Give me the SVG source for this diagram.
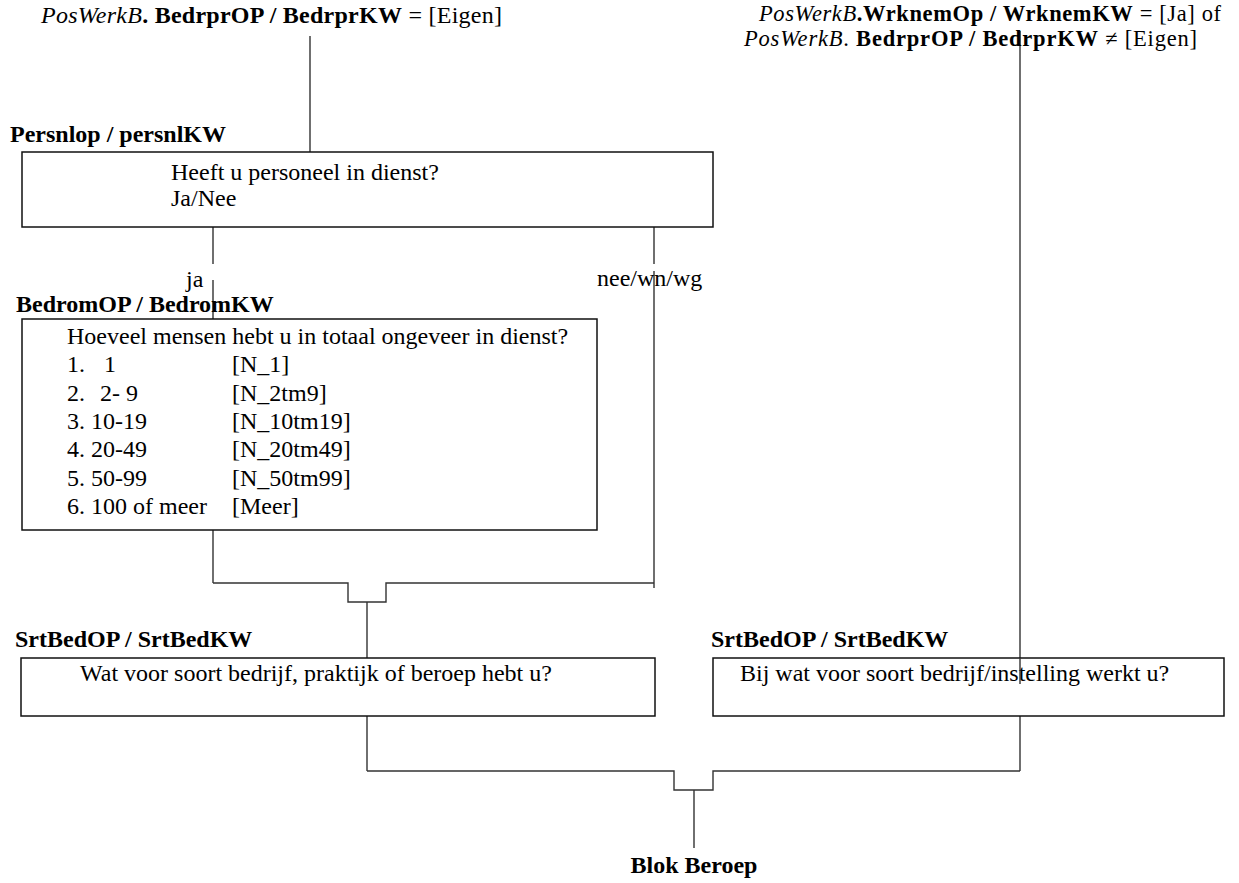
<svg xmlns="http://www.w3.org/2000/svg" width="1239" height="883" viewBox="0 0 1239 883">
<style>
text{font-family:"Liberation Serif","Times New Roman",serif;font-size:24px;fill:#000}
.b{font-weight:bold}
.i{font-style:italic}
.sm{font-size:22.5px}
.box{fill:#fff;stroke:#111;stroke-width:1.5}
.ln{fill:none;stroke:#333;stroke-width:1.4}
</style>
<rect width="1239" height="883" fill="#fff"/>
<g id="connectors">
<path class="ln" d="M310 36V152"/>
<path class="ln" d="M213 227V264M213 280V319"/>
<path class="ln" d="M654 227V264M654 271V588"/>
<path class="ln" d="M213 530V583"/>
<path class="ln" d="M213 583H348V602H386V583H654"/>
<path class="ln" d="M367 602V658"/>
<path class="ln" d="M1020 31V658"/>
<path class="ln" d="M1020 716V771"/>
<path class="ln" d="M367 716V771"/>
<path class="ln" d="M367 771H674V790H713V771H1020"/>
<path class="ln" d="M694 790V848"/>
</g>
<g id="cond-left">
<text x="41" y="23" textLength="461" lengthAdjust="spacing"><tspan class="i">PosWerkB</tspan><tspan class="b">. BedrprOP / BedrprKW</tspan> = [Eigen]</text>
</g>
<g id="cond-right">
<text class="sm" x="759" y="21" textLength="462" lengthAdjust="spacing"><tspan class="i">PosWerkB</tspan><tspan class="b">.WrknemOp / WrknemKW</tspan> = [Ja] of</text>
<text class="sm" x="744" y="46" textLength="453" lengthAdjust="spacing"><tspan class="i">PosWerkB</tspan>. <tspan class="b">BedrprOP / BedrprKW</tspan> ≠ [Eigen]</text>
</g>
<g id="persnlop">
<text class="b" x="10" y="142">Persnlop / persnlKW</text>
<rect class="box" x="22" y="152" width="691" height="75"/>
<text x="171" y="180">Heeft u personeel in dienst?</text>
<text x="171" y="206">Ja/Nee</text>
</g>
<g id="label-ja"><text x="186" y="287">ja</text></g>
<g id="label-nee"><text x="597" y="286">nee/wn/wg</text></g>
<g id="bedrom">
<text class="b" x="16" y="312">BedromOP / BedromKW</text>
<rect class="box" x="22" y="319" width="575" height="211"/>
<text x="67" y="344">Hoeveel mensen hebt u in totaal ongeveer in dienst?</text>
<text x="67" y="372">1.</text><text x="104" y="372">1</text><text x="232" y="372">[N_1]</text>
<text x="67" y="400.5">2.</text><text x="100" y="400.5">2- 9</text><text x="232" y="400.5">[N_2tm9]</text>
<text x="67" y="429">3. 10-19</text><text x="232" y="429">[N_10tm19]</text>
<text x="67" y="457">4. 20-49</text><text x="232" y="457">[N_20tm49]</text>
<text x="67" y="485.5">5. 50-99</text><text x="232" y="485.5">[N_50tm99]</text>
<text x="67" y="514">6. 100 of meer</text><text x="232" y="514">[Meer]</text>
</g>
<g id="srtbed-left">
<text class="b" x="15" y="647">SrtBedOP / SrtBedKW</text>
<rect class="box" x="21" y="658" width="634" height="58"/>
<text x="80" y="681">Wat voor soort bedrijf, praktijk of beroep hebt u?</text>
</g>
<g id="srtbed-right">
<text class="b" x="711" y="647">SrtBedOP / SrtBedKW</text>
<rect class="box" x="713" y="658" width="511" height="58"/>
<text x="740" y="681">Bij wat voor soort bedrijf/instelling werkt u?</text>
</g>
<path class="ln" d="M1020 658V684"/>
<g id="blok-beroep">
<text class="b" x="694" y="873" text-anchor="middle">Blok Beroep</text>
</g>
</svg>
